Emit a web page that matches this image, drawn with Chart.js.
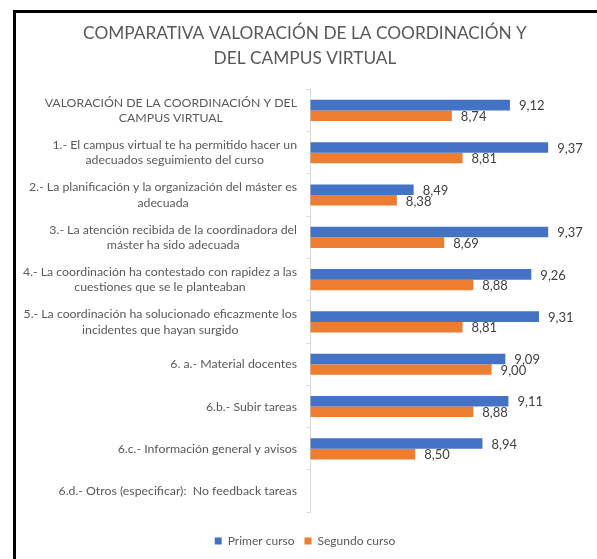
<!DOCTYPE html>
<html><head><meta charset="utf-8">
<script src="https://cdn.jsdelivr.net/npm/chart.js@4.4.1/dist/chart.umd.min.js"></script>
<style>
html,body{margin:0;padding:0;background:#fff;overflow:hidden;}
#frame{position:absolute;left:13px;top:10px;width:700px;height:700px;border-top:3px solid #000;border-left:3px solid #000;}
#c{position:absolute;left:0;top:0;}
</style></head><body>
<div id="frame"></div>
<canvas id="c" width="597" height="559"></canvas>
<script>
const titleLines = ["COMPARATIVA VALORACIÓN DE LA COORDINACIÓN Y", "DEL CAMPUS VIRTUAL"];
const categories = [
  ["VALORACIÓN DE LA COORDINACIÓN Y DEL", "CAMPUS VIRTUAL"],
  ["1.- El campus virtual te ha permitido hacer un", "adecuados seguimiento del curso"],
  ["2.- La planificación y la organización del máster es", "adecuada"],
  ["3.- La atención recibida de la coordinadora del", "máster ha sido adecuada"],
  ["4.- La coordinación ha contestado con rapidez a las", "cuestiones que se le planteaban"],
  ["5.- La coordinación ha solucionado eficazmente los", "incidentes que hayan surgido"],
  ["6. a.- Material docentes"],
  ["6.b.- Subir tareas"],
  ["6.c.- Información general y avisos"],
  ["6.d.- Otros (especificar):  No feedback tareas"]
];
const seriesNames = ["Primer curso", "Segundo curso"];
const primerCurso = [9.12, 9.37, 8.49, 9.37, 9.26, 9.31, 9.09, 9.11, 8.94, null];
const segundoCurso = [8.74, 8.81, 8.38, 8.69, 8.88, 8.81, 9.00, 8.88, 8.50, null];

const FONT = 'Lato';

const catLabelPlugin = {
  id: 'catLabels',
  afterDraw(chart) {
    const ys = chart.scales.y, ctx = chart.ctx;
    ctx.save();
    ctx.font = '12.3px ' + FONT;
    ctx.fillStyle = '#595959';
    ctx.textBaseline = 'middle';
    ctx.textAlign = 'center';
    const right = ys.right - 13.5;
    const lh = 15.5;
    chart.data.labels.forEach((lab, i) => {
      const lines = Array.isArray(lab) ? lab : [lab];
      const w = Math.max(...lines.map(l => ctx.measureText(l).width));
      const cx = right - w / 2;
      const cy = ys.getPixelForValue(i);
      lines.forEach((l, k) => ctx.fillText(l, cx, cy + (k - (lines.length - 1) / 2) * lh));
    });
    ctx.restore();
  }
};

const valueLabelPlugin = {
  id: 'valueLabels',
  afterDatasetsDraw(chart) {
    const ctx = chart.ctx;
    ctx.save();
    ctx.font = '13px ' + FONT;
    ctx.fillStyle = '#404040';
    ctx.textBaseline = 'middle';
    ctx.textAlign = 'left';
    chart.data.datasets.forEach((ds, di) => {
      const meta = chart.getDatasetMeta(di);
      meta.data.forEach((el, i) => {
        const v = ds.data[i];
        if (v == null) return;
        ctx.fillText(v.toFixed(2).replace('.', ','), el.x + 9, el.y + 1);
      });
    });
    ctx.restore();
  }
};

const legendShift = {
  id: 'legendShift',
  afterLayout(chart) {
    const l = chart.legend;
    if (!l) return;
    const d = 525 - l.top;
    l.top += d; l.bottom += d;
  }
};

new Chart(document.getElementById('c'), {
  type: 'bar',
  data: {
    labels: categories,
    datasets: [
      { label: seriesNames[0], data: primerCurso, backgroundColor: '#4472C4', borderWidth: 0, barPercentage: 1, categoryPercentage: 0.5 },
      { label: seriesNames[1], data: segundoCurso, backgroundColor: '#ED7D31', borderWidth: 0, barPercentage: 1, categoryPercentage: 0.5 }
    ]
  },
  options: {
    indexAxis: 'y',
    responsive: false,
    animation: false,
    layout: { padding: { left: 16, right: 3, top: 0, bottom: 14.7 } },
    scales: {
      x: { display: false, min: 7.815, max: 9.67 },
      y: {
        offset: true,
        grid: { display: true, drawOnChartArea: false, drawTicks: true, tickLength: 4, color: '#d9d9d9', offset: true },
        border: { display: true, color: '#d9d9d9' },
        ticks: { display: false },
        afterFit(s) { s.width = 294.5; }
      }
    },
    plugins: {
      tooltip: { enabled: false },
      title: {
        display: true, text: titleLines, color: '#595959',
        font: { family: FONT, size: 17.3, weight: 'normal', lineHeight: 1.445 },
        padding: { top: 20.5, bottom: 18.8 }
      },
      legend: {
        position: 'bottom',
        labels: { boxWidth: 7, boxHeight: 7, padding: 10, color: '#595959', font: { family: FONT, size: 12 } }
      }
    }
  },
  plugins: [catLabelPlugin, valueLabelPlugin, legendShift]
});
</script>
</body></html>
